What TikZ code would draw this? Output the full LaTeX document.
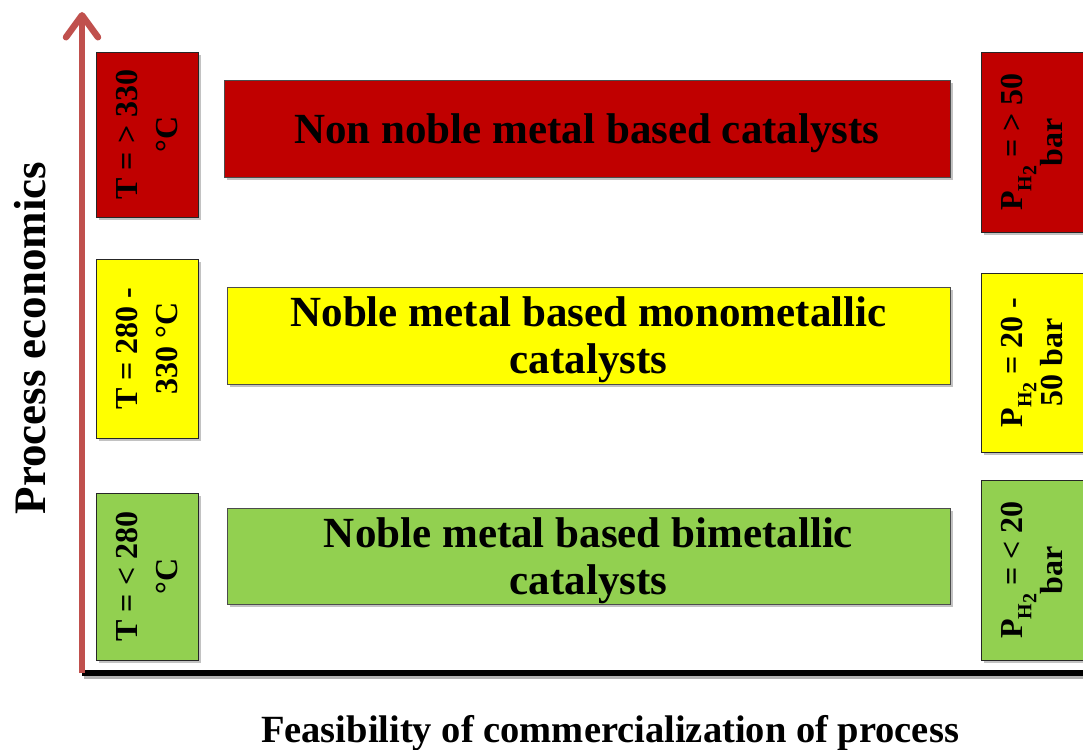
\documentclass[tikz,border=0pt]{standalone}
\usepackage{fontspec}
\setmainfont{Liberation Serif}
\usetikzlibrary{arrows.meta,shadows}

\definecolor{catred}{RGB}{192,0,0}
\definecolor{catyellow}{RGB}{255,255,0}
\definecolor{catgreen}{RGB}{146,208,80}
\definecolor{axisred}{RGB}{192,80,77}

\newcommand{\pHtwo}{P\raisebox{-0.28em}{\fontsize{20}{20}\selectfont H\raisebox{-0.25em}{2}}}

\begin{document}
\begin{tikzpicture}[
    x=1pt, y=-1pt,
    boxshadow/.style={drop shadow={shadow xshift=3pt, shadow yshift=-3pt, fill=black!60, opacity=0.4}},
    catbox/.style={rectangle, draw=black!70, line width=0.8pt, boxshadow, inner sep=0pt, text depth=0pt, text centered, align=center, font=\bfseries\fontsize{43}{47}\selectfont},
    sidebox/.style={rectangle, draw=black!85, line width=0.8pt, boxshadow, inner sep=0pt, minimum width=102pt},
    sidetext/.style={rotate=90, align=center, font=\bfseries\fontsize{32}{40}\selectfont},
    axisup/.style={draw=axisred, line width=6.5pt, -{Straight Barb[length=22pt, width=32pt, round]}},
    axisright/.style={draw=black, line width=6pt, preaction={draw=black!30, line width=6pt, transform canvas={shift={(2pt,-3pt)}}}},
    title/.style={font=\bfseries\fontsize{45}{50}\selectfont, inner sep=0pt}
]
\useasboundingbox (0,0) rectangle (1083,749);

% axes
\coordinate (origin) at (82,673);
\coordinate (ytip) at (82,12);
\coordinate (xend) at (1090,673);
\draw[axisright] (origin) -- (xend);
\draw[axisup] (origin) -- (ytip);

% temperature boxes
\node[sidebox, fill=catred, minimum height=165pt] (tHigh) at (147,134.5) {};
\node[sidetext] (tHighText) at (tHigh.center) {T = > 330\\°C};
\node[sidebox, fill=catyellow, minimum height=179pt] (tMid) at (147,348.5) {};
\node[sidetext] (tMidText) at (tMid.center) {T = 280 -\\330 °C};
\node[sidebox, fill=catgreen, minimum height=167pt] (tLow) at (147,576.5) {};
\node[sidetext] (tLowText) at (tLow.center) {T = < 280\\°C};

% catalyst boxes
\node[catbox, fill=catred, minimum width=726pt, minimum height=97pt] (nonNoble) at (587,128.5) {Non noble metal based catalysts};
\node[catbox, fill=catyellow, minimum width=723pt, minimum height=97pt] (mono) at (588.5,335.5) {Noble metal based monometallic\\catalysts};
\node[catbox, fill=catgreen, minimum width=723pt, minimum height=96pt] (bi) at (588.5,556) {Noble metal based bimetallic\\catalysts};

% pressure boxes
\node[sidebox, fill=catred, minimum height=180pt] (pHigh) at (1032,142) {};
\node[sidetext] (pHighText) at (pHigh.center) {\pHtwo{} = > 50\\bar};
\node[sidebox, fill=catyellow, minimum height=179pt] (pMid) at (1032,362.5) {};
\node[sidetext] (pMidText) at (pMid.center) {\pHtwo{} = 20 -\\50 bar};
\node[sidebox, fill=catgreen, minimum height=180pt] (pLow) at (1032,570) {};
\node[sidetext] (pLowText) at (pLow.center) {\pHtwo{} = < 20\\bar};

% axis titles
\node[title, rotate=90, anchor=base] (econ) at (45,338) {Process economics};
\node[title, font=\bfseries\fontsize{38.5}{40}\selectfont, anchor=base] (feas) at (610,742) {Feasibility of commercialization of process};
\end{tikzpicture}
\end{document}
